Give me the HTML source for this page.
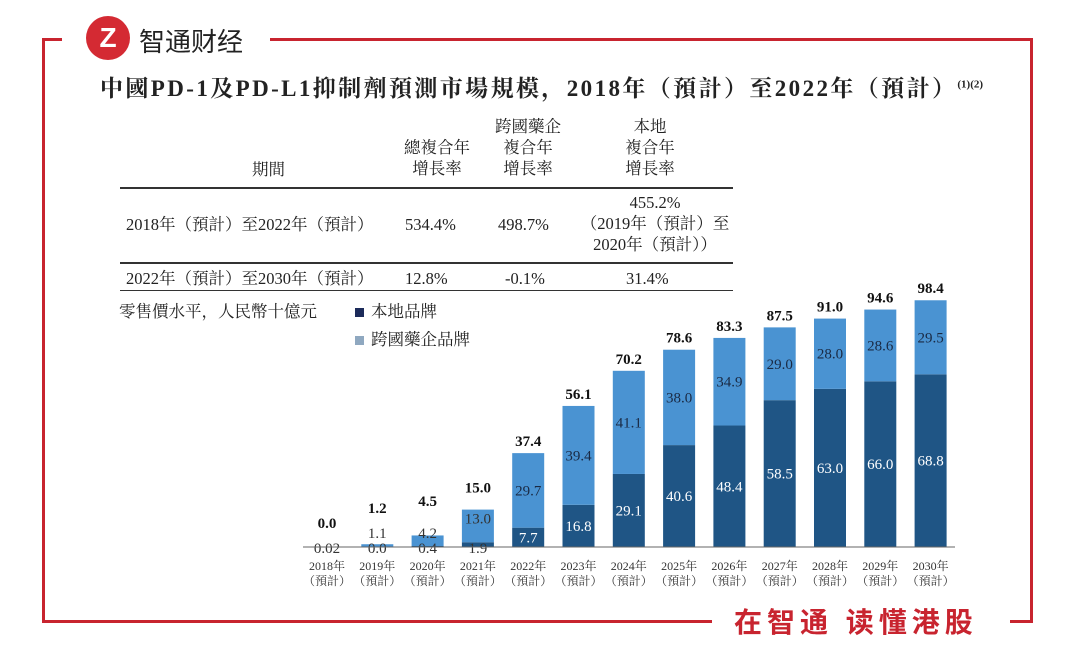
<!DOCTYPE html>
<html><head><meta charset="utf-8"><style>
body{margin:0;background:#fff;}
#root{position:relative;width:1080px;height:647px;overflow:hidden;font-family:"Liberation Serif","Noto Serif CJK SC",serif;color:#222;}
.t{position:absolute;white-space:nowrap;}
.c{text-align:center;}
.ln{position:absolute;background:#c8242f;}
.hr{position:absolute;background:#333;height:2px;left:120px;width:613px;}
</style></head><body>
<div id="root">
<div class="ln" style="left:42px;top:38px;width:20px;height:3px"></div>
<div class="ln" style="left:270px;top:38px;width:762px;height:3px"></div>
<div class="ln" style="left:42px;top:38px;width:3px;height:585px"></div>
<div class="ln" style="left:1030px;top:38px;width:3px;height:585px"></div>
<div class="ln" style="left:42px;top:620px;width:670px;height:3px"></div>
<div class="ln" style="left:1010px;top:620px;width:22px;height:3px"></div>
<div class="t" style="left:86px;top:16px;width:44px;height:44px;border-radius:50%;background:#d42a33;color:#fff;font:bold 28px 'Liberation Sans',sans-serif;line-height:44px;text-align:center;">Z</div>
<div class="t" style="left:139px;top:22px;font:26px 'Liberation Sans','Noto Sans CJK SC',sans-serif;color:#222;">智通财经</div>
<div class="t" style="left:100px;top:70px;font:bold 23px 'Liberation Serif','Noto Serif CJK SC',serif;letter-spacing:2.4px">中國PD-1及PD-L1抑制劑預測市場規模，2018年（預計）至2022年（預計）<sup style="font-size:11px;letter-spacing:0">(1)(2)</sup></div>
<div style="font-size:16.5px;line-height:21px;">
<div class="t c" style="left:252px;top:159px;">期間</div>
<div class="t c" style="left:392px;top:137px;width:90px">總複合年<br>增長率</div>
<div class="t c" style="left:483px;top:116px;width:90px">跨國藥企<br>複合年<br>增長率</div>
<div class="t c" style="left:605px;top:116px;width:90px">本地<br>複合年<br>增長率</div>
<div class="hr" style="top:187px"></div>
<div class="t" style="left:126px;top:214px;">2018年（預計）至2022年（預計）</div>
<div class="t" style="left:405px;top:214px;">534.4%</div>
<div class="t" style="left:498px;top:214px;">498.7%</div>
<div class="t c" style="left:565px;top:192px;width:180px">455.2%<br>（2019年（預計）至<br>2020年（預計））</div>
<div class="hr" style="top:262px"></div>
<div class="t" style="left:126px;top:268px;">2022年（預計）至2030年（預計）</div>
<div class="t" style="left:405px;top:268px;">12.8%</div>
<div class="t" style="left:505px;top:268px;">-0.1%</div>
<div class="t" style="left:626px;top:268px;">31.4%</div>
<div class="hr" style="top:290px;height:1px"></div>
<div class="t" style="left:119px;top:301px;">零售價水平，人民幣十億元</div>
<div class="t" style="left:355px;top:301px;"><span style="display:inline-block;width:9px;height:9px;background:#1c2b5a;margin-right:7px"></span>本地品牌</div>
<div class="t" style="left:355px;top:329px;"><span style="display:inline-block;width:9px;height:9px;background:#8fa8c0;margin-right:7px"></span>跨國藥企品牌</div>
</div>
<svg id="ch" width="1080" height="647" style="position:absolute;left:0;top:0"></svg>
<div class="t" style="left:734px;top:601px;font:bold 28px 'Liberation Sans','Noto Sans CJK SC',sans-serif;color:#c8242f;letter-spacing:5px">在智通 读懂港股</div>
</div>
<script>
const years=["2018年","2019年","2020年","2021年","2022年","2023年","2024年","2025年","2026年","2027年","2028年","2029年","2030年"];
const local=[0.02,0.0,0.4,1.9,7.7,16.8,29.1,40.6,48.4,58.5,63.0,66.0,68.8];
const mnc=[0.0,1.1,4.2,13.0,29.7,39.4,41.1,38.0,34.9,29.0,28.0,28.6,29.5];
const totals=[0.0,1.2,4.5,15.0,37.4,56.1,70.2,78.6,83.3,87.5,91.0,94.6,98.4];
const localLbl=["0.02","0.0","0.4","1.9","7.7","16.8","29.1","40.6","48.4","58.5","63.0","66.0","68.8"];
const mncLbl=["","1.1","4.2","13.0","29.7","39.4","41.1","38.0","34.9","29.0","28.0","28.6","29.5"];
const totLbl=["0.0","1.2","4.5","15.0","37.4","56.1","70.2","78.6","83.3","87.5","91.0","94.6","98.4"];
const svg=document.getElementById('ch'),NS='http://www.w3.org/2000/svg';
const base=547,k=2.51,x0=327,step=50.3,bw=32;
const X=i=>x0+i*step, Y=v=>base-v*k;
function mk(t,a,txt){const e=document.createElementNS(NS,t);for(const q in a)e.setAttribute(q,a[q]);if(txt!=null)e.textContent=txt;svg.appendChild(e);return e;}
const ff='"Liberation Serif","Noto Serif CJK SC",serif';
years.forEach((y,i)=>{
 const cx=X(i),l=local[i],m=mnc[i];
 let r=mk('rect',{x:cx-bw/2,y:Y(l),width:bw,height:l*k,fill:'#1f5585'});
 
 
 r=mk('rect',{x:cx-bw/2,y:Y(l+m),width:bw,height:m*k,fill:'#4a93d2'});
 
 
 const small=(l+m)<20;
 let t;
 if(small){
  t=mk('text',{x:cx,y:base+6,'text-anchor':'middle','font-size':15,'font-family':ff,fill:'#333'},localLbl[i]);
  
  
  if(mncLbl[i]){t=mk('text',{x:cx,y:Y(l+m)+14,'text-anchor':'middle','font-size':15,'font-family':ff,fill:'#333'},mncLbl[i]);
  if(i<3)t.setAttribute('y',base-9);
  
  }
 }else{
  t=mk('text',{x:cx,y:(Y(l)+base)/2+5,'text-anchor':'middle','font-size':15,'font-family':ff,fill:'#fff'},localLbl[i]);
  
  
  t=mk('text',{x:cx,y:(Y(l+m)+Y(l))/2+5,'text-anchor':'middle','font-size':15,'font-family':ff,fill:'#1a2a44'},mncLbl[i]);
  
  
 }
 t=mk('text',{x:cx,y:Y(totals[i])-7,'text-anchor':'middle','font-size':15,'font-weight':'bold','font-family':ff,fill:'#111'},totLbl[i]);
 if(i==0)t.setAttribute('y',528);
 if(i==1)t.setAttribute('y',513);
 if(i==2)t.setAttribute('y',506);
 if(i==3)t.setAttribute('y',Y(totals[i])-17);
 
 
 t=mk('text',{x:cx,y:570,'text-anchor':'middle','font-size':12,'font-family':ff,fill:'#333'},y);
 
 
 t=mk('text',{x:cx,y:585,'text-anchor':'middle','font-size':12,'font-family':ff,fill:'#333'},'（預計）');
 
 
});
const ax=mk('line',{x1:303,x2:955,y1:base,y2:base,stroke:'#666','stroke-width':1});


</script>
</body></html>
